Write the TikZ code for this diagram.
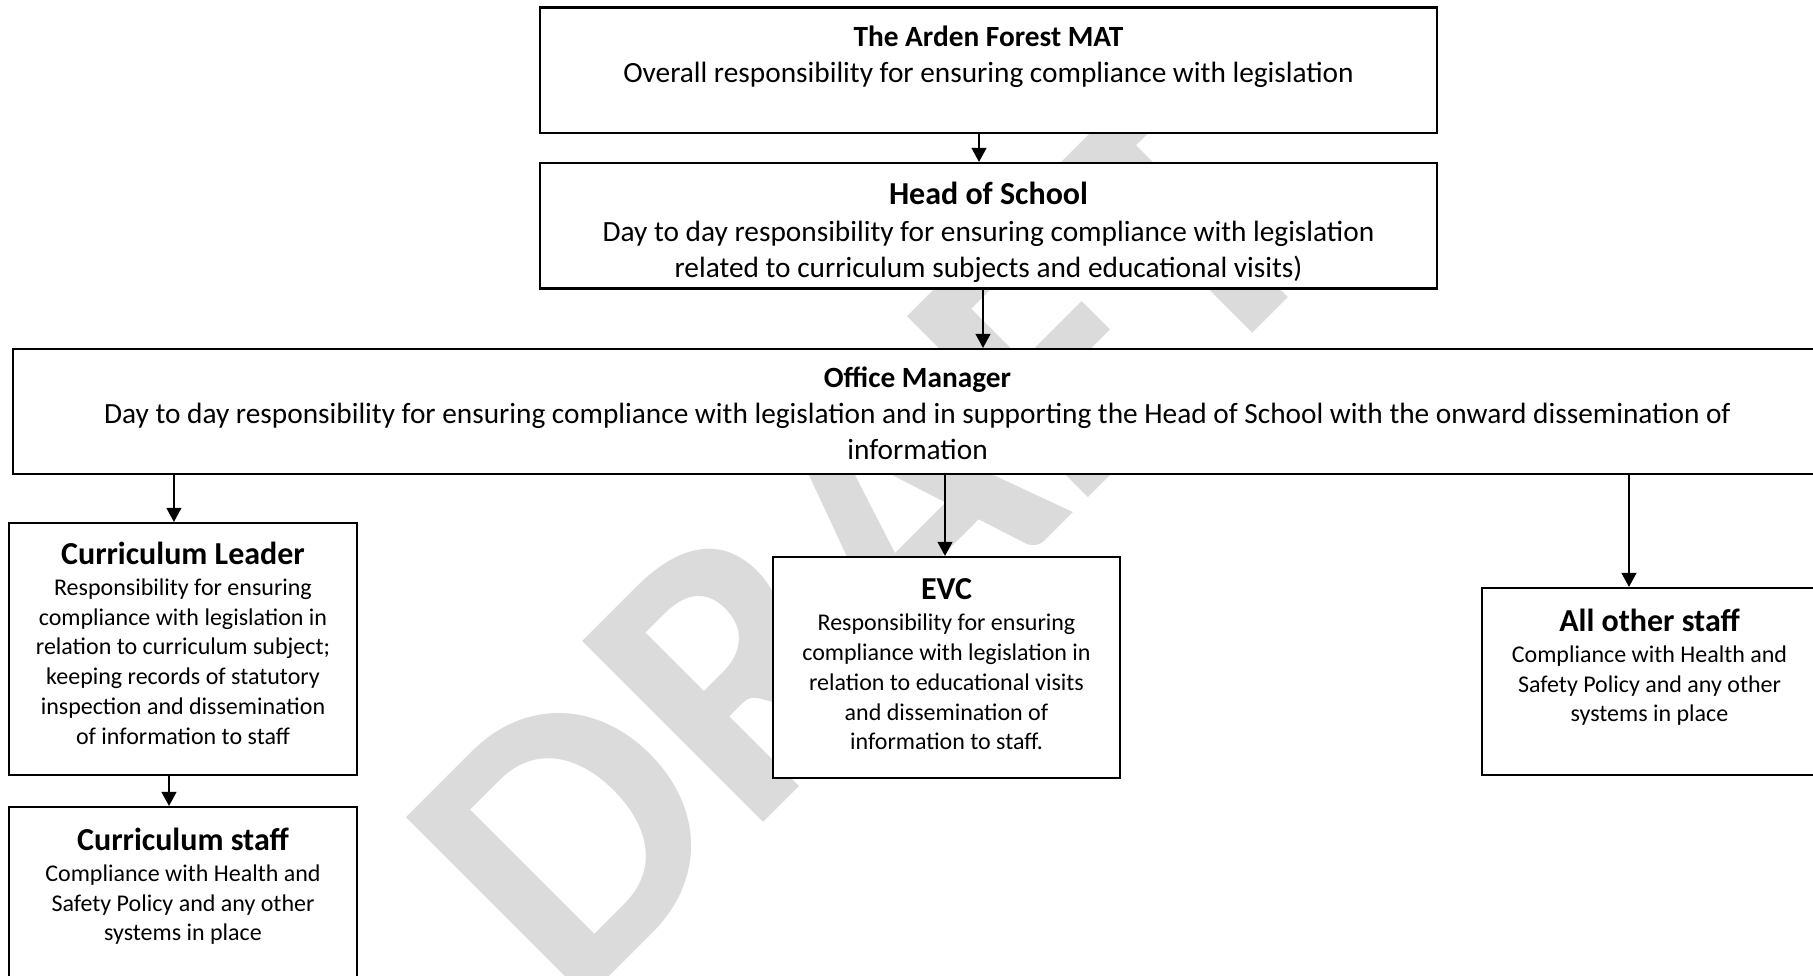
\documentclass[tikz,border=0pt]{standalone}
\usepackage{fontspec}
\setmainfont{Carlito}
\usetikzlibrary{arrows.meta,positioning,fit}

\newcommand{\roletitle}[1]{{\bfseries\fontsize{12}{14}\selectfont #1}}

\begin{document}
\begin{tikzpicture}
[
x=0.375pt, y=-0.375pt,
>={Triangle[width=5.6pt,length=5.3pt]},
box/.style={draw=black, line width=0.8pt, fill=white, inner sep=0pt},
txt/.style={align=center, inner sep=0pt, font=\fontsize{11}{13.5}\selectfont},
smalltxt/.style={txt, font=\fontsize{9}{11.15}\selectfont}
]
\tikzset{wmark/.style={text=black!14, inner sep=0pt, font=\bfseries\fontsize{148}{148}\selectfont}}
\useasboundingbox (0,0) rectangle (1813,975);
\node[wmark, rotate=45, anchor=base west] (draft) at (571,1015) {DRAFT};

\node[box, fit={(540,7.5) (1437,133)}] (mat) {};
\node[box, fit={(540,163) (1437,288.5)}] (head) {};
\node[box, fit={(13,349) (1822,474)}] (office) {};
\node[box, fit={(9,523) (357,775)}] (cl) {};
\node[box, fit={(9,807) (357,1060)}] (cs) {};
\node[box, fit={(773,557) (1120,778)}] (evc) {};
\node[box, fit={(1482,588) (1817,775)}] (all) {};

\node[txt, below=7pt of mat.north] (mattext) {{\bfseries The Arden Forest MAT}\\
  Overall responsibility for ensuring compliance with legislation};
\node[txt, below=7.2pt of head.north] (headtext) {\roletitle{Head of School}\\[0.5pt]
  Day to day responsibility for ensuring compliance with legislation\\
  related to curriculum subjects and educational visits)};
\node[txt, below=6.8pt of office.north] (officetext) {{\bfseries Office Manager}\\
  Day to day responsibility for ensuring compliance with legislation and in supporting the Head of School with the onward dissemination of\\
  information};
\node[smalltxt, below=7.2pt of cl.north] (cltext) {\roletitle{Curriculum Leader}\\[0.6pt]
  Responsibility for ensuring\\compliance with legislation in\\relation to curriculum subject;\\
  keeping records of statutory\\inspection and dissemination\\of information to staff};
\node[smalltxt, below=7.9pt of cs.north] (cstext) {\roletitle{Curriculum staff}\\[0.6pt]
  Compliance with Health and\\Safety Policy and any other\\systems in place};
\node[smalltxt, below=8.3pt of evc.north] (evctext) {\roletitle{EVC}\\[0.6pt]
  Responsibility for ensuring\\compliance with legislation in\\relation to educational visits\\
  and dissemination of\\information to staff.};
\node[smalltxt, below=7.9pt of all.north] (alltext) {\roletitle{All other staff}\\[0.6pt]
  Compliance with Health and\\Safety Policy and any other\\systems in place};

\path[->, line width=0.6pt]
([xshift=-3.56pt] mat.south)	edge	([xshift=-3.56pt] head.north)
([xshift=-2.06pt] head.south)	edge	([xshift=-2.06pt] head.south |- office.north)
([xshift=-3.4pt] cl.north |- office.south)	edge	([xshift=-3.4pt] cl.north)
([xshift=-0.56pt] evc.north |- office.south)	edge	([xshift=-0.56pt] evc.north)
([xshift=-7.7pt] all.north |- office.south)	edge	([xshift=-7.7pt] all.north)
([xshift=-5.25pt] cl.south)	edge	([xshift=-5.25pt] cs.north);
\end{tikzpicture}
\end{document}
